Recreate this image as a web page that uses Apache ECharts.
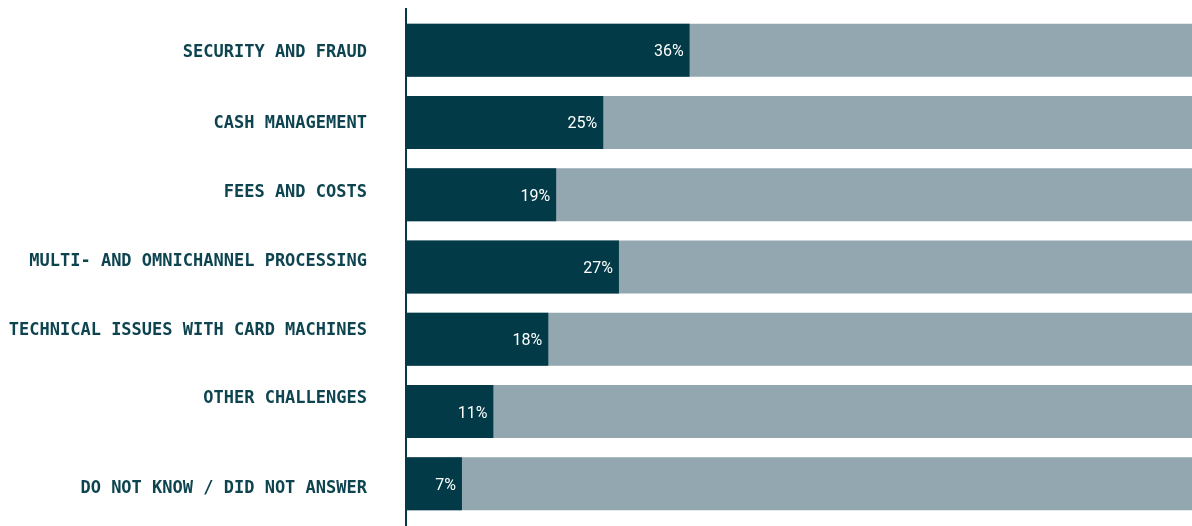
<!DOCTYPE html>
<html>
<head>
<meta charset="utf-8">
<script src="https://cdn.jsdelivr.net/npm/echarts@6/dist/echarts.min.js"></script>
<style>
  html, body { margin: 0; padding: 0; background: #ffffff; }
  #chart { width: 1192px; height: 526px; }
</style>
</head>
<body>
<div id="chart"></div>
<script>
// Merchant challenges, share of respondents (%)
const categories = [
  'SECURITY AND FRAUD',
  'CASH MANAGEMENT',
  'FEES AND COSTS',
  'MULTI- AND OMNICHANNEL PROCESSING',
  'TECHNICAL ISSUES WITH CARD MACHINES',
  'OTHER CHALLENGES',
  'DO NOT KNOW / DID NOT ANSWER'
];
const shares = [36, 25, 19, 27, 18, 11, 7];

// vertical nudge of each category label (px, positive = up), typographic tweak
const labelLift = [-2.5, -1, 2.5, 5.5, 8.5, 12.5, -5];

const DARK = '#023b47';
const TEXT = '#0d4450';
const TRACK = '#93a7b0';

const labelFont = {
  color: TEXT,
  fontFamily: 'DejaVu Sans Mono',
  fontWeight: 'bold',
  fontSize: 17
};
const rich = {};
labelLift.forEach((lift, i) => {
  rich['c' + i] = Object.assign({}, labelFont, {
    padding: lift > 0 ? [0, 0, 2 * lift, 0] : [-2 * lift, 0, 0, 0]
  });
});

const chart = echarts.init(document.getElementById('chart'));
chart.setOption({
  animation: false,
  grid: { left: 407, right: 0, top: 14, bottom: 6 },
  xAxis: {
    type: 'value', min: 0, max: 100,
    show: false
  },
  yAxis: {
    type: 'category',
    inverse: true,
    data: categories,
    axisLine: { show: false },
    axisTick: { show: false },
    axisLabel: Object.assign({
      margin: 40,
      formatter: (v, i) => '{c' + i + '|' + v + '}',
      rich: rich
    }, labelFont)
  },
  series: [{
    type: 'bar',
    data: shares,
    barWidth: 53,
    showBackground: true,
    backgroundStyle: { color: TRACK },
    itemStyle: { color: DARK },
    label: {
      show: true,
      position: 'insideRight',
      distance: 6,
      offset: [0, 2],
      color: '#ffffff',
      fontFamily: 'Roboto',
      fontSize: 16,
      formatter: p => p.value + '%'
    }
  }],
  graphic: [{
    type: 'line',
    shape: { x1: 406, y1: 8, x2: 406, y2: 526 },
    style: { stroke: DARK, lineWidth: 2 }
  }]
});
</script>
</body>
</html>
